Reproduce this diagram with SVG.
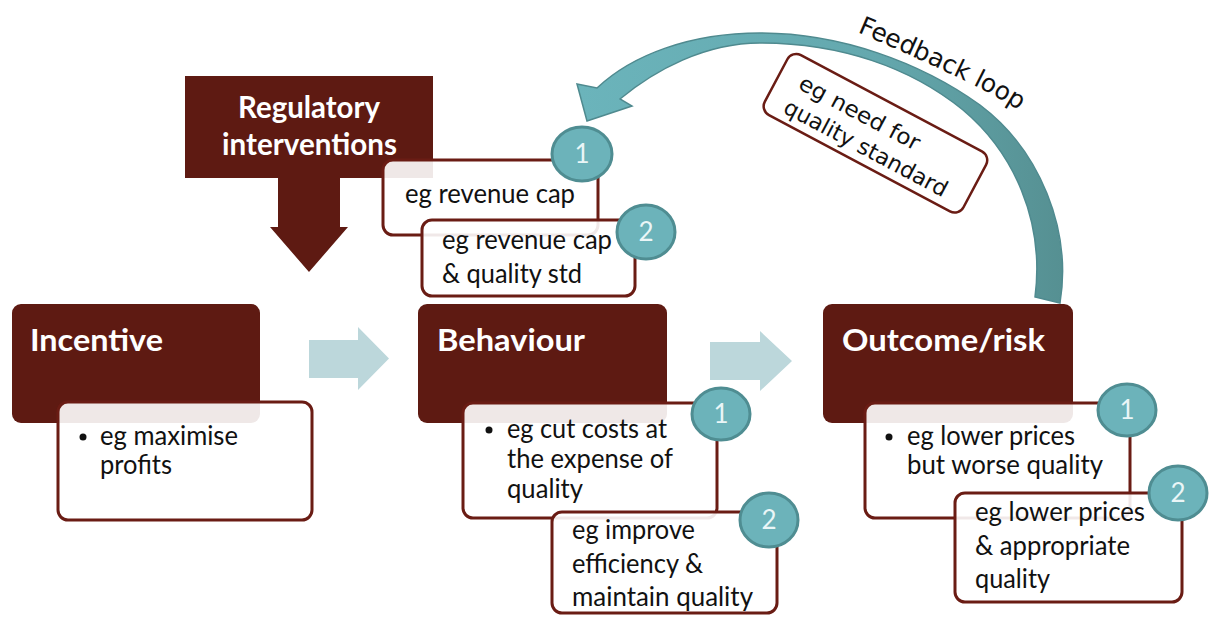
<svg xmlns="http://www.w3.org/2000/svg" width="1214" height="617" viewBox="0 0 1214 617">
<defs>
<linearGradient id="fbg" x1="580" y1="0" x2="1070" y2="0" gradientUnits="userSpaceOnUse">
<stop offset="0" stop-color="#6bb4bb"/>
<stop offset="0.6" stop-color="#64a8ae"/>
<stop offset="1" stop-color="#558f91"/>
</linearGradient>
<style>
.dark{fill:#5e1a12;}
.card{fill:#ffffff;fill-opacity:0.9;stroke:#6a1c14;stroke-width:3;}
.title{font-family:Lato,"Liberation Sans",sans-serif;font-weight:bold;font-size:31px;fill:#ffffff;}
.body{font-family:Lato,"Liberation Sans",sans-serif;font-size:26px;fill:#111111;}
.num{fill:#6cb3ba;stroke:#4f8d92;stroke-width:3;}
.numt{font-family:Lato,"Liberation Sans",sans-serif;font-size:26px;fill:#eaf6f7;text-anchor:middle;}
.flow{fill:#bcd7db;}
.fb{font-family:"DejaVu Sans",Verdana,sans-serif;fill:#111111;}
</style>
</defs>
<rect width="1214" height="617" fill="#ffffff"/>

<g id="connectors">
<polygon class="flow" points="309,340 358,340 358,327 389,358.5 358,390 358,378 309,378"/>
<polygon class="flow" points="710,342 760,342 760,331 792,361 760,391 760,380 710,380"/>
<path d="M 1060,303 C 1072,230 1040,150 980,105 C 920,62 840,33 760,33 C 690,33 632,55 597,88 L 577,84 L 587,121 L 632,106 L 620,99 C 655,70 705,43 760,43 C 840,43 910,67 963,110 C 1013,152 1045,220 1035,297 Z" fill="url(#fbg)" stroke="#4f8a8f" stroke-width="1.5"/>
<path id="fbpath" d="M 857,32 Q 990,89 1024,114" fill="none"/>
<text class="fb" font-size="25"><textPath href="#fbpath" textLength="180" lengthAdjust="spacingAndGlyphs">Feedback loop</textPath></text>
</g>

<g id="feedback-note" transform="translate(875,133) rotate(28)">
<rect x="-112" y="-34" width="225" height="68" rx="10" fill="#ffffff" stroke="#6a1c14" stroke-width="2.5"/>
<text class="fb" font-size="22" x="-90" y="-3" textLength="134" lengthAdjust="spacingAndGlyphs">eg need for</text>
<text class="fb" font-size="22" x="-92" y="25" textLength="182" lengthAdjust="spacingAndGlyphs">quality standard</text>
</g>

<g id="regulatory">
<rect class="dark" x="185" y="76" width="248" height="102"/>
<polygon class="dark" points="278,177 340,177 340,227 348,227 309,272 270,227 278,227"/>
<text class="title" x="238" y="118" textLength="142" lengthAdjust="spacingAndGlyphs">Regulatory</text>
<text class="title" x="222" y="155" textLength="175" lengthAdjust="spacingAndGlyphs">interventions</text>
</g>

<g id="reg-option1">
<rect class="card" x="383" y="160" width="215" height="75" rx="10"/>
<text class="body" x="405" y="203" textLength="170" lengthAdjust="spacingAndGlyphs">eg revenue  cap</text>
<ellipse class="num" cx="582" cy="154" rx="30" ry="27"/>
<text class="numt" x="582" y="163">1</text>
</g>

<g id="reg-option2">
<rect class="card" x="422" y="220" width="213" height="76" rx="10"/>
<text class="body" x="442" y="249" textLength="170" lengthAdjust="spacingAndGlyphs">eg revenue  cap</text>
<text class="body" x="442" y="283" textLength="140" lengthAdjust="spacingAndGlyphs">&amp; quality std</text>
<ellipse class="num" cx="646" cy="232" rx="29" ry="27"/>
<text class="numt" x="646" y="241">2</text>
</g>

<g id="incentive">
<rect class="dark" x="12" y="304" width="248" height="119" rx="9"/>
<text class="title" x="30" y="351" textLength="133" lengthAdjust="spacingAndGlyphs">Incentive</text>
<rect class="card" x="58" y="402" width="254" height="118" rx="10"/>
<circle cx="83" cy="437" r="3.5" fill="#111111"/>
<text class="body" x="100" y="445" textLength="138" lengthAdjust="spacingAndGlyphs">eg maximise</text>
<text class="body" x="100" y="474" textLength="72" lengthAdjust="spacingAndGlyphs">profits</text>
</g>

<g id="behaviour">
<rect class="dark" x="418" y="304" width="249" height="119" rx="9"/>
<text class="title" x="437" y="351" textLength="148" lengthAdjust="spacingAndGlyphs">Behaviour</text>
</g>

<g id="behaviour-option1">
<rect class="card" x="463" y="403" width="254" height="115" rx="10"/>
<circle cx="489" cy="430" r="3.5" fill="#111111"/>
<text class="body" x="507" y="438" textLength="160" lengthAdjust="spacingAndGlyphs">eg cut costs at</text>
<text class="body" x="507" y="468" textLength="166" lengthAdjust="spacingAndGlyphs">the expense of</text>
<text class="body" x="507" y="498" textLength="76" lengthAdjust="spacingAndGlyphs">quality</text>
<ellipse class="num" cx="721" cy="414" rx="29" ry="26"/>
<text class="numt" x="721" y="423">1</text>
</g>

<g id="behaviour-option2">
<rect class="card" x="552" y="512" width="225" height="101" rx="10"/>
<text class="body" x="572" y="539" textLength="123" lengthAdjust="spacingAndGlyphs">eg improve</text>
<text class="body" x="572" y="573" textLength="131" lengthAdjust="spacingAndGlyphs">efficiency &amp;</text>
<text class="body" x="572" y="606" textLength="181" lengthAdjust="spacingAndGlyphs">maintain quality</text>
<ellipse class="num" cx="769" cy="520" rx="29" ry="27"/>
<text class="numt" x="769" y="529">2</text>
</g>

<g id="outcome">
<rect class="dark" x="823" y="304" width="250" height="119" rx="9"/>
<text class="title" x="842" y="351" textLength="203" lengthAdjust="spacingAndGlyphs">Outcome/risk</text>
</g>

<g id="outcome-option1">
<rect class="card" x="865" y="403" width="265" height="115" rx="10"/>
<circle cx="889" cy="437" r="3.5" fill="#111111"/>
<text class="body" x="907" y="445" textLength="168" lengthAdjust="spacingAndGlyphs">eg lower prices</text>
<text class="body" x="907" y="474" textLength="196" lengthAdjust="spacingAndGlyphs">but worse quality</text>
<ellipse class="num" cx="1127" cy="410" rx="29" ry="26"/>
<text class="numt" x="1127" y="419">1</text>
</g>

<g id="outcome-option2">
<rect class="card" x="955" y="493" width="227" height="109" rx="10"/>
<text class="body" x="975" y="521" textLength="170" lengthAdjust="spacingAndGlyphs">eg lower prices</text>
<text class="body" x="975" y="555" textLength="155" lengthAdjust="spacingAndGlyphs">&amp; appropriate</text>
<text class="body" x="975" y="588" textLength="75" lengthAdjust="spacingAndGlyphs">quality</text>
<ellipse class="num" cx="1178" cy="493" rx="29" ry="27"/>
<text class="numt" x="1178" y="502">2</text>
</g>
</svg>
